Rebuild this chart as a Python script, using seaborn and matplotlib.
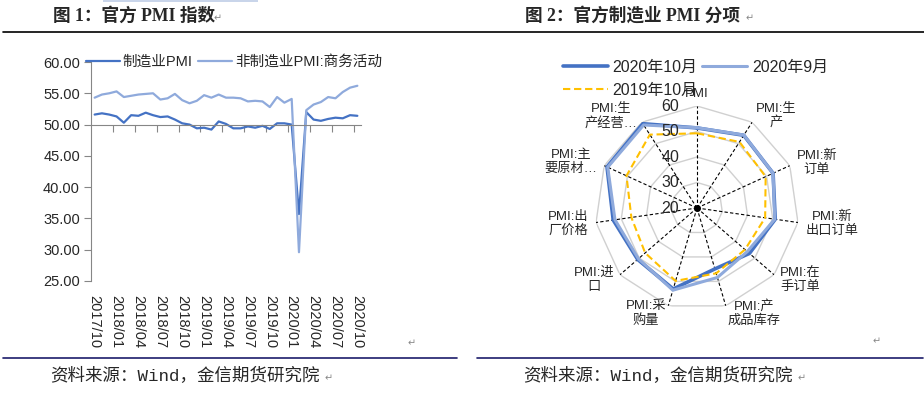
import numpy as np
import matplotlib
matplotlib.use('Agg')
import matplotlib.pyplot as plt
import matplotlib.transforms as mtransforms
from matplotlib.lines import Line2D
from matplotlib.patches import Rectangle
import seaborn as sns

sns.set_style('white')
plt.rcParams['font.family'] = ['Liberation Sans', 'Noto Sans CJK SC', 'DejaVu Sans']

# 图1 数据: 2017/10 - 2020/10 月度
tick_labels = ['2017/10', '2018/01', '2018/04', '2018/07', '2018/10', '2019/01', '2019/04',
               '2019/07', '2019/10', '2020/01', '2020/04', '2020/07', '2020/10']
mfg_pmi = [51.6, 51.8, 51.6, 51.3, 50.3, 51.5, 51.4, 51.9, 51.5, 51.2, 51.3, 50.8, 50.2,
           50.0, 49.4, 49.5, 49.2, 50.5, 50.1, 49.4, 49.4, 49.7, 49.5, 49.8, 49.3, 50.2,
           50.2, 50.0, 35.7, 52.0, 50.8, 50.6, 50.9, 51.1, 51.0, 51.5, 51.4]
nonmfg_pmi = [54.3, 54.8, 55.0, 55.3, 54.4, 54.6, 54.8, 54.9, 55.0, 54.0, 54.2, 54.9, 53.9,
              53.4, 53.8, 54.7, 54.3, 54.8, 54.3, 54.3, 54.2, 53.7, 53.8, 53.7, 52.8, 54.4,
              53.5, 54.1, 29.6, 52.3, 53.2, 53.6, 54.4, 54.2, 55.2, 55.9, 56.2]

# 图2 数据: 制造业PMI分项
radar_cats = ['PMI', 'PMI:生\n产', 'PMI:新\n订单', 'PMI:新\n出口订单', 'PMI:在\n手订单',
              'PMI:产\n成品库存', 'PMI:采\n购量', 'PMI:进\n口', 'PMI:出\n厂价格',
              'PMI:主\n要原材…', 'PMI:生\n产经营…']
oct_2020 = [51.4, 53.9, 52.8, 51.0, 47.2, 44.9, 53.1, 50.8, 53.2, 58.8, 59.3]
sep_2020 = [51.5, 54.0, 52.8, 50.8, 46.1, 48.4, 53.6, 50.4, 52.5, 58.5, 58.7]
oct_2019 = [49.3, 50.8, 49.6, 47.0, 44.9, 46.7, 49.8, 46.9, 46.0, 50.4, 54.2]
radar_ticks = [20, 30, 40, 50, 60]

W, H = 924, 398
fig = plt.figure(figsize=(W / 100, H / 100), dpi=100)


def fx(px):
    return px / W


def fy(py):
    return 1 - py / H


dark_blue = '#4472C4'
light_blue = '#8FAADC'
navy = '#1C1C6B'
title_font = ['Liberation Serif', 'Noto Sans CJK SC', 'DejaVu Sans']
src_font = ['Liberation Mono', 'Noto Sans CJK SC', 'DejaVu Sans']

# 页面装饰
fig.add_artist(Rectangle((fx(103), fy(2)), fx(155), 2 / H, color='#C9D5EA', lw=0))
fig.add_artist(Line2D([fx(3), 1], [fy(32), fy(32)], color='black', lw=1.2))
fig.add_artist(Line2D([fx(3), fx(457)], [fy(358), fy(358)], color=navy, lw=1.2))
fig.add_artist(Line2D([fx(477), fx(923)], [fy(358), fy(358)], color=navy, lw=1.2))

fig.text(fx(53), fy(16), '图 1：官方 PMI 指数', fontsize=12.7, fontweight='bold',
         family=title_font, va='center', ha='left')
fig.text(fx(525), fy(16), '图 2：官方制造业 PMI 分项', fontsize=12.7, fontweight='bold',
         family=title_font, va='center', ha='left')
fig.text(fx(50), fy(375), '资料来源：Wind，金信期货研究院', fontsize=12.6,
         family=src_font, va='center', ha='left')
fig.text(fx(523), fy(375), '资料来源：Wind，金信期货研究院', fontsize=12.6,
         family=src_font, va='center', ha='left')
for x, y in [(218, 18), (750, 18), (329, 378), (802, 378), (412, 343), (877, 341)]:
    fig.text(fx(x), fy(y), '↵', fontsize=7, color='#888888', family='DejaVu Sans',
             va='center', ha='center')

# ---- 图1 折线图 ----
ax = fig.add_axes([fx(91), fy(281), fx(270), (281 - 62) / H])
x = np.arange(len(mfg_pmi))
sns.lineplot(x=x, y=mfg_pmi, ax=ax, color=dark_blue, linewidth=1.6, label='制造业PMI')
sns.lineplot(x=x, y=nonmfg_pmi, ax=ax, color=light_blue, linewidth=1.6,
             label='非制造业PMI:商务活动')
ax.set_xlim(-0.5, len(mfg_pmi) - 0.5)
ax.set_ylim(25, 60)
ax.set_yticks(np.arange(25, 61, 5))
ax.set_yticklabels([f'{v:.2f}' for v in np.arange(25, 61, 5)])
ax.tick_params(axis='y', length=5, width=0.8, color='#868686', labelsize=10.5,
               labelcolor='#262626', pad=3, left=True)
for s in ['top', 'right']:
    ax.spines[s].set_visible(False)
ax.spines['left'].set_color('#868686')
ax.spines['bottom'].set_color('#868686')
ax.spines['bottom'].set_position(('data', 50))
ax.set_xticks(np.arange(2.5, len(mfg_pmi) - 1, 3))
ax.tick_params(axis='x', length=5, width=0.8, color='#868686', labelbottom=False, bottom=True)
sec = ax.secondary_xaxis(0)
sec.set_xticks(np.arange(0, len(mfg_pmi), 3), tick_labels)
sec.tick_params(length=0, pad=10, labelsize=10.5, labelcolor='#262626', labelrotation=-90)
sec.spines['bottom'].set_visible(False)
ax.set_xlabel('')
ax.set_ylabel('')
ax.legend_.remove()
h, l = ax.get_legend_handles_labels()
fig.legend(h, l, loc='upper left', bbox_to_anchor=(fx(86), fy(55)), ncol=2, frameon=False,
           fontsize=10.5, handlelength=2.3, handletextpad=0.2, columnspacing=0.4,
           borderpad=0, borderaxespad=0)

# ---- 图2 雷达图 ----
ax2 = fig.add_axes([fx(595), fy(310), fx(204), 204 / H], projection='polar')
ax2.set_theta_zero_location('N')
ax2.set_theta_direction(-1)
ax2.set_ylim(20, 60)
ax2.grid(False)
ax2.set_xticks([])
ax2.set_yticks([])
ax2.spines['polar'].set_visible(False)
ax2.patch.set_alpha(0)

n = len(radar_cats)
angles = np.linspace(0, 2 * np.pi, n, endpoint=False)
closed = np.append(angles, 2 * np.pi)
for v in radar_ticks[1:]:
    ax2.plot(closed, [v] * (n + 1), color='#D0D0D0', lw=1.0, zorder=1)
for a in angles:
    ax2.plot([a, a], [20, 60], color='black', lw=0.8, ls=(0, (3, 2)), zorder=2)
ax2.plot([0], [20], 'o', color='black', ms=4, zorder=6)

series = [('2020年10月', oct_2020, dark_blue, 2.6, '-'),
          ('2020年9月', sep_2020, light_blue, 2.2, '-'),
          ('2019年10月', oct_2019, '#FFC000', 1.5, (0, (3.5, 1.8)))]
handles = {}
for name, vals, col, lw, ls in series:
    sns.lineplot(x=closed, y=list(vals) + [vals[0]], ax=ax2, color=col, linewidth=lw,
                 linestyle=ls, sort=False, estimator=None, zorder=4)
    handles[name] = Line2D([], [], color=col, lw=lw, ls=ls)
ax2.set_xlabel('')
ax2.set_ylabel('')

for k, (a, lab) in enumerate(zip(angles, radar_cats)):
    if k == 0:
        ax2.text(a, 62.5, lab, ha='center', va='bottom', fontsize=9.5)
    else:
        ha = 'left' if k <= 5 else 'right'
        ax2.text(a, 63, lab, ha=ha, va='center', multialignment='center', fontsize=9.5)

off = mtransforms.offset_copy(ax2.transData, fig=fig, x=-18, y=0, units='dots')
for v in radar_ticks:
    ax2.text(0, v, str(v), transform=off, ha='right', va='center', fontsize=11.5,
             color='#262626', zorder=7)

order = ['2020年10月', '2019年10月', '2020年9月']
fig.legend([handles[o] for o in order], order, loc='upper left',
           bbox_to_anchor=(fx(563), fy(60)), ncol=2, frameon=False, fontsize=11.5,
           handlelength=2.8, handletextpad=0.3, columnspacing=0.3, labelspacing=0.5,
           borderpad=0, borderaxespad=0)

fig.savefig('out.png', dpi=100)
